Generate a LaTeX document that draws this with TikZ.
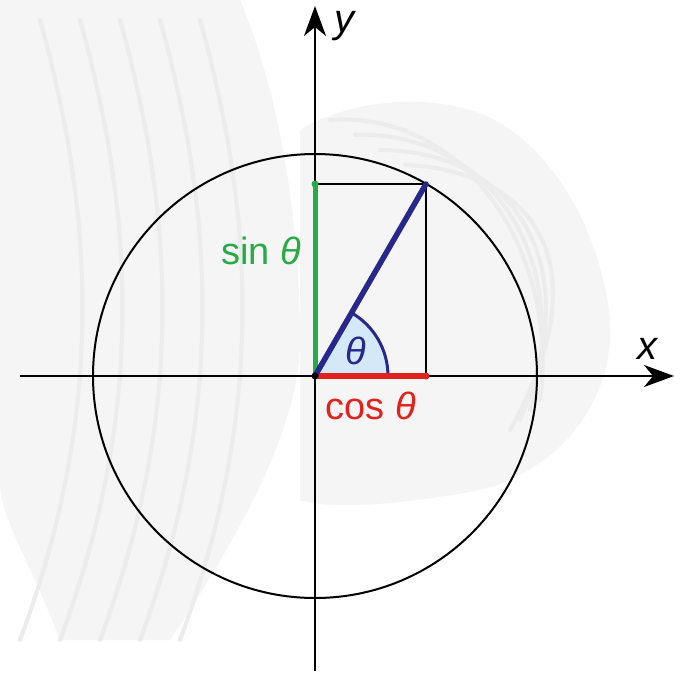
\documentclass[tikz,border=0pt]{standalone}
\usepackage{fontspec}
\setmainfont{Liberation Sans}
\usetikzlibrary{arrows.meta}
\definecolor{navy}{RGB}{40,40,140}
\definecolor{sgreen}{RGB}{40,170,70}
\definecolor{sred}{RGB}{225,35,30}
\definecolor{lblue}{RGB}{212,232,248}
\definecolor{bg1}{RGB}{245,245,245}
\definecolor{bg2}{RGB}{236,236,236}
\tikzset{
  axis/.style={line width=1.8pt,-{Stealth[length=30pt,width=22pt,inset=9pt]}},
  thin/.style={line width=2pt,black},
  lbl/.style={font=\fontsize{38}{40}\selectfont},
  band/.style={fill=bg1,draw=none},
  stripe/.style={draw=bg2,line width=4pt,line cap=round}
}
\begin{document}
\begin{tikzpicture}[x=1pt,y=-1pt]
\useasboundingbox (0,0) rectangle (675,673);
\fill[white] (0,0) rectangle (675,673);
% faint background swirl
\fill[band] (0,0) -- (240,0) .. controls (290,120) and (300,260) .. (300,340)
  .. controls (300,420) and (250,520) .. (170,640) -- (60,640) .. controls (30,560) and (0,520) .. (0,480) -- cycle;
\fill[band] (300,130) .. controls (350,100) and (420,95) .. (470,110)
  .. controls (540,130) and (600,220) .. (610,320) .. controls (615,400) and (560,470) .. (480,490)
  .. controls (400,505) and (330,510) .. (300,500) -- cycle;
\foreach \k in {0,1,2,3,4}{
  \draw[stripe] (40+40*\k,20) .. controls (90+40*\k,200) and (110+40*\k,400) .. (20+40*\k,640);
}
\foreach \k in {0,1,2,3}{
  \draw[stripe] (330+25*\k,120+15*\k) .. controls (470+20*\k,110+20*\k) and (560+15*\k,260) .. (540-10*\k,400+10*\k);
}
% coordinates
\coordinate (O) at (315,376);
\coordinate (P) at (426,184);
\coordinate (S) at (315,184);
\coordinate (C) at (426,376);
\coordinate (xl) at (20,376);
\coordinate (xr) at (674,376);
\coordinate (yb) at (315,671);
\coordinate (yt) at (315,6);
% circle
\draw[thin] (O) circle[radius=222];
% angle
\fill[lblue] (O) -- (388,376) arc[start angle=0,end angle=-60,radius=73] -- cycle;
\draw[navy,line width=3pt] (388,376) arc[start angle=0,end angle=-60,radius=73];
% axes
\draw[axis] (xl) -- (xr);
\draw[axis] (yb) -- (yt);
% rectangle
\draw[thin] (S) -- (P) -- (C);
% segments
\draw[sgreen,line width=5pt] (O) -- (S);
\fill[sgreen] (S) circle[radius=3.5];
\draw[sred,line width=5.5pt] (O) -- (C);
\fill[sred] (C) circle[radius=3.5];
\draw[navy,line width=5.5pt,line cap=round] (O) -- (P);
\fill[black] (O) circle[radius=3.5];
% labels
\node[lbl,sgreen] (sinl) at (261,251) {sin \textit{θ}};
\node[lbl,sred] (cosl) at (371,406) {cos \textit{θ}};
\node[navy,font=\fontsize{38}{40}\selectfont] (th) at (356,351) {\textit{θ}};
\node[font=\fontsize{40}{42}\selectfont] (xlab) at (648,349) {\textit{x}};
\node[font=\fontsize{40}{42}\selectfont] (ylab) at (346,26) {\textit{y}};
\end{tikzpicture}
\end{document}
